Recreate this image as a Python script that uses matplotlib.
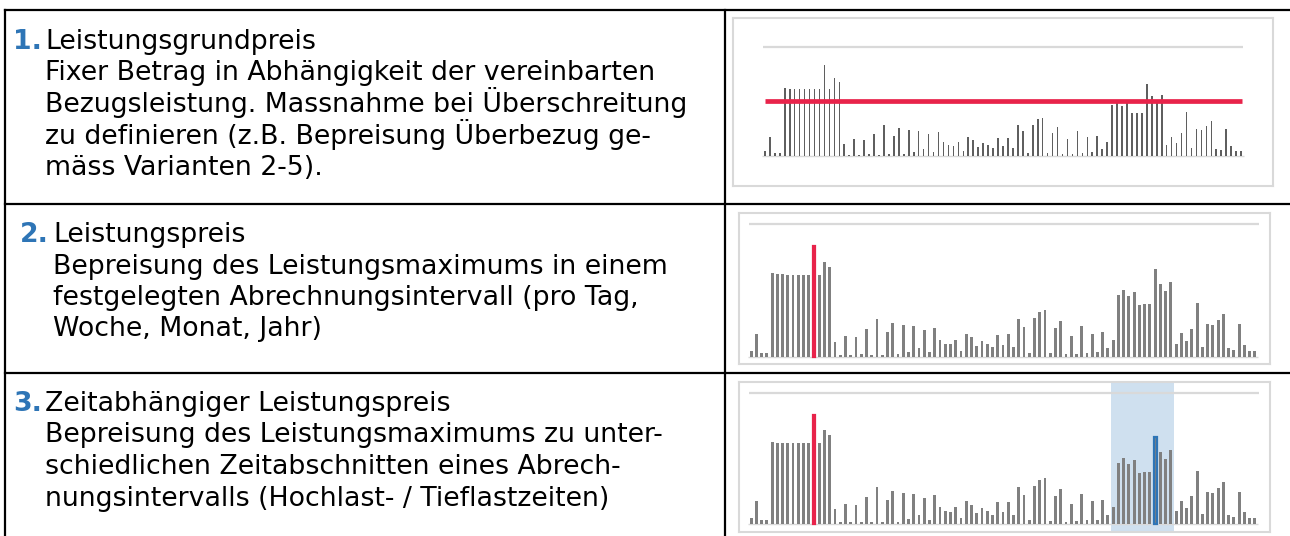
import matplotlib
matplotlib.use('Agg')
import matplotlib.pyplot as plt
from matplotlib.lines import Line2D
import numpy as np

# Data: load profile (same series in all three mini charts)
load = [18, 68, 12, 11, 248, 245, 245, 244, 244, 243,
        243, 243, 330, 243, 282, 268, 45, 5, 60, 5,
        58, 7, 81, 5, 113, 6, 73, 101, 7, 95,
        15, 92, 27, 79, 13, 86, 51, 39, 37, 50,
        18, 68, 57, 32, 48, 39, 28, 65, 36, 67,
        28, 113, 89, 12, 114, 134, 138, 10, 84, 107,
        7, 60, 8, 92, 12, 68, 13, 72, 26, 50,
        185, 199, 180, 192, 155, 156, 156, 261, 216, 195,
        223, 39, 70, 47, 83, 161, 30, 97, 95, 108,
        128, 27, 21, 97, 36, 18, 18]
grid_level = 396
contract_level = 201        # agreed power (row 1)
peak_idx = 12               # overall maximum (rows 2, 3)
hightariff_peak_idx = 77    # max in high-load window (row 3)
hightariff_window = (69, 80)

numbers = ['1.', '2.', '3.']
texts = [
    ['Leistungsgrundpreis',
     'Fixer Betrag in Abhängigkeit der vereinbarten',
     'Bezugsleistung. Massnahme bei Überschreitung',
     'zu definieren (z.B. Bepreisung Überbezug ge-',
     'mäss Varianten 2-5).'],
    ['Leistungspreis',
     'Bepreisung des Leistungsmaximums in einem',
     'festgelegten Abrechnungsintervall (pro Tag,',
     'Woche, Monat, Jahr)'],
    ['Zeitabhängiger Leistungspreis',
     'Bepreisung des Leistungsmaximums zu unter-',
     'schiedlichen Zeitabschnitten eines Abrech-',
     'nungsintervalls (Hochlast- / Tieflastzeiten)'],
]

W, H = 1290, 536
fig = plt.figure(figsize=(W / 100, H / 100), dpi=100)
fig.patch.set_facecolor('white')

def fx(x):
    return x / W

def fy(y):
    return 1 - y / H

# table lines
def line(x0, y0, x1, y1):
    fig.add_artist(Line2D([fx(x0), fx(x1)], [fy(y0), fy(y1)], color='black', lw=1.6))

line(5, 10, 1290, 10)
line(5, 204, 1290, 204)
line(5, 373, 1290, 373)
line(5, 10, 5, 536)
line(725, 10, 725, 536)

# texts
blue = '#2e75b6'
fs = 19.3
num_x = [13, 20, 13]
txt_x = [45, 53, 45]
first_base = [49, 242, 411]
step = 31.5
for r in range(3):
    fig.text(fx(num_x[r]), fy(first_base[r]), numbers[r], color=blue, fontweight='bold',
             fontsize=fs, va='baseline', ha='left')
    for k, t in enumerate(texts[r]):
        fig.text(fx(txt_x[r]), fy(first_base[r] + k * step), t, color='black',
                 fontsize=fs, va='baseline', ha='left')

# mini charts
x = np.arange(len(load))
frames = [(733, 18, 1273, 186), (739, 213, 1270, 364), (739, 382, 1270, 532)]
xlims = [(-6.44, 102.44), (-2.30, 98.88), (-2.30, 98.88)]
ylims = [(-109, 501), (-22, 428), (-24, 428)]
gridx = [(-0.42, 96.4), (-0.48, 96.76), (-0.48, 96.76)]

axes = []
for i, (x0, y0, x1, y1) in enumerate(frames):
    ax = fig.add_axes([fx(x0), fy(y1), fx(x1 - x0), (y1 - y0) / H])
    ax.set_xlim(*xlims[i])
    ax.set_ylim(*ylims[i])
    ax.set_xticks([])
    ax.set_yticks([])
    for s in ax.spines.values():
        s.set_color('#d9d9d9')
        s.set_linewidth(1.5)
    ax.hlines(grid_level, gridx[i][0], gridx[i][1], color='#d9d9d9', lw=1.6, zorder=1)
    ax.hlines(0, -0.5, 96.5, color='#d9d9d9', lw=1.0, zorder=1)
    axes.append(ax)

# row 1: thin bars + agreed power line
axes[0].bar(x, load, width=0.32, color='#5f5f5f', zorder=2)
axes[0].hlines(contract_level, -0.07, 96.2, color='#e8234a', lw=3.4, zorder=3)

# row 2: peak highlighted
bars = axes[1].bar(x, load, width=0.55, color='#808080', zorder=2)
bars[peak_idx].set_edgecolor('#e8234a')
bars[peak_idx].set_linewidth(1.6)

# row 3: high-load window + two peaks
axes[2].axvspan(hightariff_window[0] - 0.46, hightariff_window[1] + 0.65,
                color='#cfe0ef', zorder=0, lw=0)
bars = axes[2].bar(x, load, width=0.55, color='#808080', zorder=2)
bars[peak_idx].set_edgecolor('#e8234a')
bars[peak_idx].set_linewidth(1.6)
bars[hightariff_peak_idx].set_edgecolor('#2e75b6')
bars[hightariff_peak_idx].set_linewidth(1.6)

fig.savefig('out.png', dpi=100, facecolor='white')
